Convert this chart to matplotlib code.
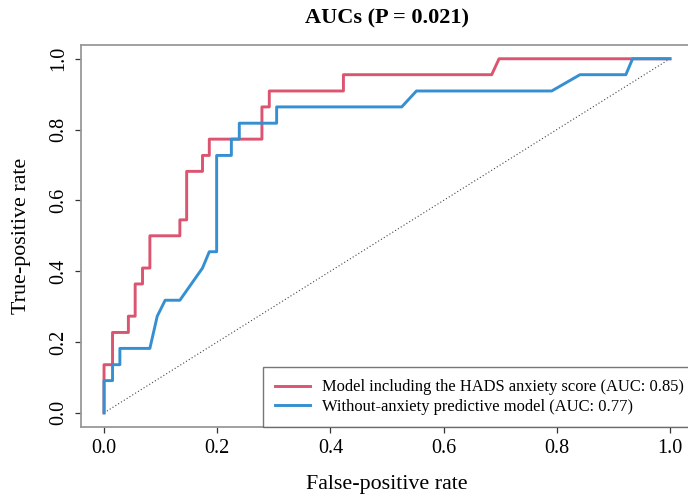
import numpy as np
import matplotlib.pyplot as plt

# ROC points (FPR, TPR)
fpr_hads = [0.0, 0.0, 0.015, 0.015, 0.043, 0.043, 0.055, 0.055, 0.068, 0.068,
            0.081, 0.081, 0.134, 0.134, 0.146, 0.146, 0.174, 0.174, 0.186, 0.186,
            0.279, 0.279, 0.292, 0.292, 0.423, 0.423, 0.685, 0.698, 1.0]
tpr_hads = [0.0, 0.136, 0.136, 0.227, 0.227, 0.273, 0.273, 0.364, 0.364, 0.409,
            0.409, 0.500, 0.500, 0.545, 0.545, 0.682, 0.682, 0.727, 0.727, 0.773,
            0.773, 0.864, 0.864, 0.909, 0.909, 0.955, 0.955, 1.0, 1.0]

fpr_base = [0.0, 0.0, 0.015, 0.015, 0.028, 0.028, 0.081, 0.094, 0.108, 0.134,
            0.174, 0.186, 0.199, 0.199, 0.225, 0.225, 0.239, 0.239, 0.305, 0.305,
            0.526, 0.552, 0.791, 0.841, 0.922, 0.934, 1.0]
tpr_base = [0.0, 0.091, 0.091, 0.136, 0.136, 0.182, 0.182, 0.273, 0.318, 0.318,
            0.409, 0.455, 0.455, 0.727, 0.727, 0.773, 0.773, 0.818, 0.818, 0.864,
            0.864, 0.909, 0.909, 0.955, 0.955, 1.0, 1.0]

labels = ["Model including the HADS anxiety score (AUC: 0.85)",
          "Without-anxiety predictive model (AUC: 0.77)"]
ticks = [0.0, 0.2, 0.4, 0.6, 0.8, 1.0]

plt.rcParams['font.family'] = ['Liberation Serif', 'DejaVu Serif']

W, H = 688, 500
fig = plt.figure(figsize=(W / 100, H / 100), dpi=100)
ax = fig.add_axes([81.4 / W, (H - 427) / H, 611.2 / W, 382.4 / H])
ax.set_xlim(-0.04, 1.04)
ax.set_ylim(-0.04, 1.04)

ax.plot([0, 1], [0, 1], color='#444444', lw=0.8, ls=(0, (1, 2)))
ax.plot(fpr_hads, tpr_hads, color='#DB5470', lw=2.1, label=labels[0])
ax.plot(fpr_base, tpr_base, color='#3590D2', lw=2.1, label=labels[1])

for s in ax.spines.values():
    s.set_color('#999999')
    s.set_linewidth(1.3)

ax.set_xticks(ticks)
ax.set_yticks(ticks)
ax.set_xticklabels([f"{t:.1f}" for t in ticks], fontsize=14.5)
ax.set_yticklabels([f"{t:.1f}" for t in ticks], fontsize=14.5, rotation=90, va='center')
ax.tick_params(direction='out', length=4.5, width=0.9, color='#333333')
ax.tick_params(axis='x', pad=4)
ax.tick_params(axis='y', pad=5)

fig.text(387 / W, 1 - 484 / H, "False-positive rate", fontsize=15.8,
         ha='center', va='center')
fig.text(22 / W, 1 - 236 / H, "True-positive rate", fontsize=15.8,
         ha='center', va='center', rotation=90)
fig.text(387 / W, 1 - 18.5 / H, "AUCs (P = 0.021)", fontsize=16, fontweight='bold',
         ha='center', va='center')

leg = ax.legend(loc='lower right', bbox_to_anchor=(1.0 + 4 / 611, 0.0), fontsize=11.9,
                frameon=True, fancybox=False, borderaxespad=0, handlelength=2.1,
                handletextpad=0.75, borderpad=0.75, labelspacing=0.2)
leg.get_frame().set_edgecolor('#555555')
leg.get_frame().set_linewidth(1.0)

fig.savefig("out.png", dpi=100)
